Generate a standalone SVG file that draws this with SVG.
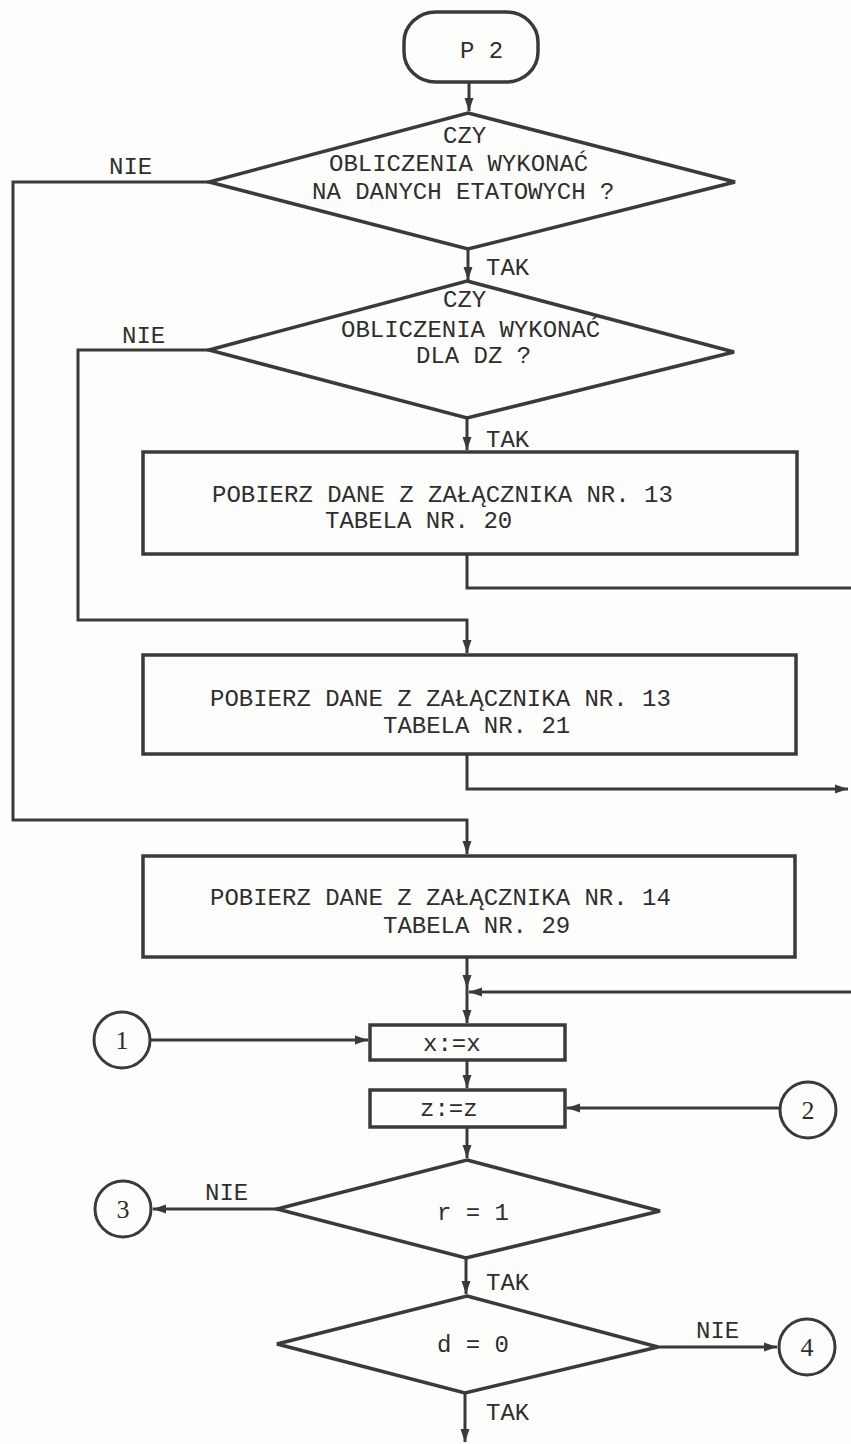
<svg xmlns="http://www.w3.org/2000/svg" width="851" height="1444" viewBox="0 0 851 1444">
<style>
.shape{fill:none;stroke:#3a3a3a;stroke-width:3.5;stroke-linejoin:miter}
.conn{fill:none;stroke:#3a3a3a;stroke-width:3}
.arr{marker-end:url(#ah)}
text{font-family:"Liberation Mono","DejaVu Sans Mono",monospace;font-size:24px;fill:#2e2e2e}
.num{text-anchor:middle;font-family:"Liberation Serif","DejaVu Serif",serif;font-size:26px}
</style>
<defs>
<marker id="ah" markerUnits="userSpaceOnUse" markerWidth="14" markerHeight="10" refX="13" refY="5" orient="auto">
<path d="M0,0.5 L13,5 L0,9.5 Z" fill="#3a3a3a"/>
</marker>
</defs>
<rect x="0" y="0" width="851" height="1444" fill="#fdfdfc"/>

<g id="connectors">
<path class="conn arr" d="M469,82 V111"/>
<path class="conn arr" d="M468,250 V280"/>
<path class="conn arr" d="M209,182 H13 V820 H467 V854"/>
<path class="conn arr" d="M209,350 H78 V620 H467 V653"/>
<path class="conn arr" d="M467,418 V450"/>
<path class="conn" d="M467,555 V588 H851"/>
<path class="conn arr" d="M467,755 V789 H848"/>
<path class="conn arr" d="M467,958 V988"/>
<path class="conn arr" d="M467,988 V1023"/>
<path class="conn arr" d="M851,992 H469"/>
<path class="conn arr" d="M151,1040 H368"/>
<path class="conn arr" d="M467,1060 V1088"/>
<path class="conn arr" d="M779,1108 H567"/>
<path class="conn arr" d="M467,1127 V1158"/>
<path class="conn arr" d="M277,1209 H153"/>
<path class="conn arr" d="M466,1258 V1294"/>
<path class="conn arr" d="M658,1347 H777"/>
<path class="conn arr" d="M465,1393 V1442"/>
</g>

<g id="labels">
<text x="109" y="174">NIE</text>
<text x="486" y="275">TAK</text>
<text x="122" y="343">NIE</text>
<text x="486" y="447">TAK</text>
<text x="205" y="1200">NIE</text>
<text x="486" y="1290">TAK</text>
<text x="696" y="1338">NIE</text>
<text x="486" y="1420">TAK</text>
</g>

<g id="start">
<rect class="shape" x="404" y="12" width="134" height="70" rx="32" ry="30"/>
<text x="460" y="58">P 2</text>
</g>

<g id="decision1">
<polygon class="shape" points="468,113 735,182 468,249 209,182"/>
<text x="443" y="143">CZY</text>
<text x="329" y="171">OBLICZENIA WYKONAĆ</text>
<text x="312" y="199">NA DANYCH ETATOWYCH ?</text>
</g>

<g id="decision2">
<polygon class="shape" points="467,281 734,352 467,418 209,350"/>
<text x="443" y="307">CZY</text>
<text x="341" y="337">OBLICZENIA WYKONAĆ</text>
<text x="416" y="363">DLA DZ ?</text>
</g>

<g id="box1">
<rect class="shape" x="143" y="452" width="654" height="102"/>
<text x="212" y="502">POBIERZ DANE Z ZAŁĄCZNIKA NR. 13</text>
<text x="325" y="528">TABELA NR. 20</text>
</g>

<g id="box2">
<rect class="shape" x="143" y="655" width="653" height="99"/>
<text x="210" y="706">POBIERZ DANE Z ZAŁĄCZNIKA NR. 13</text>
<text x="383" y="733">TABELA NR. 21</text>
</g>

<g id="box3">
<rect class="shape" x="143" y="856" width="652" height="101"/>
<text x="210" y="905">POBIERZ DANE Z ZAŁĄCZNIKA NR. 14</text>
<text x="383" y="933">TABELA NR. 29</text>
</g>

<g id="assign-x">
<rect class="shape" x="370" y="1025" width="195" height="35"/>
<text x="423" y="1051">x:=x</text>
</g>

<g id="assign-z">
<rect class="shape" x="370" y="1090" width="195" height="37"/>
<text x="420" y="1116">z:=z</text>
</g>

<g id="decision-r">
<polygon class="shape" points="467,1160 660,1211 466,1258 277,1209"/>
<text x="437" y="1220">r = 1</text>
</g>

<g id="decision-d">
<polygon class="shape" points="467,1296 658,1347 465,1393 277,1344"/>
<text x="437" y="1352">d = 0</text>
</g>

<g id="conn1">
<circle class="shape" cx="122" cy="1040" r="28" style="stroke-width:3"/>
<text class="num" x="122" y="1049">1</text>
</g>
<g id="conn2">
<circle class="shape" cx="808" cy="1110" r="28" style="stroke-width:3"/>
<text class="num" x="808" y="1119">2</text>
</g>
<g id="conn3">
<circle class="shape" cx="123" cy="1209" r="28" style="stroke-width:3"/>
<text class="num" x="123" y="1218">3</text>
</g>
<g id="conn4">
<circle class="shape" cx="807" cy="1347" r="28" style="stroke-width:3"/>
<text class="num" x="807" y="1356">4</text>
</g>
</svg>
